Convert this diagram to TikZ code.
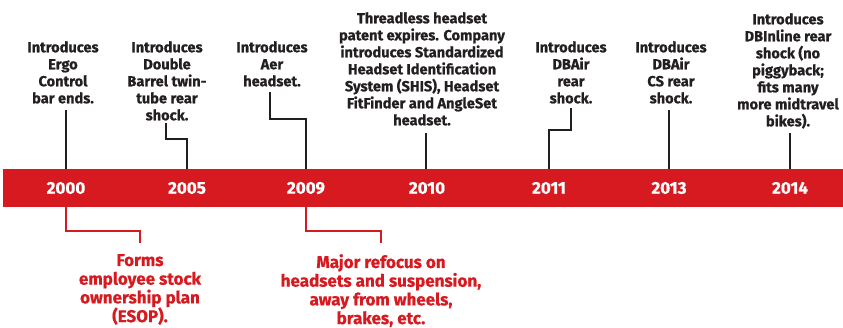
\documentclass[tikz,border=0pt]{standalone}
\usepackage{fontspec}
\setmainfont[BoldFeatures={FakeBold=0.6}]{Fira Sans}
\usepackage{tikz}
\usetikzlibrary{positioning}
\definecolor{barred}{HTML}{D71920}
\definecolor{ink}{HTML}{231F20}

\begin{document}
\begin{tikzpicture}[x=1pt,y=1pt,
  evt/.style={align=center, inner sep=0pt, anchor=north, text=ink, font=\bfseries\fontsize{14.6}{17}\selectfont},
  low/.style={align=center, inner sep=0pt, anchor=north, text=barred, font=\bfseries\fontsize{17}{18.7}\selectfont},
  year/.style={text=white, inner sep=0pt, font=\bfseries\fontsize{17}{20}\selectfont},
  tick/.style={draw=ink, line width=1.8pt},
  rtick/.style={draw=barred, line width=1.8pt}]
  \useasboundingbox[fill=white] (0,0) rectangle (843,327);
  \node[fill=barred, minimum width=840pt, minimum height=38pt, inner sep=0pt, anchor=south west] (bar) at (3,120) {};
  \foreach \x/\yr in {66/2000,187/2005,306/2009,427/2010,549/2011,669/2013,790/2014} {\node[year] (y\yr) at (\x,139) {\yr};}
  \node[evt] (t2000) at (63,286) {Introduces\\Ergo\\Control\\bar ends.};
  \node[evt] (t2005) at (167,286) {Introduces\\Double\\Barrel twin-\\tube rear\\shock.};
  \node[evt] (t2009) at (272,286) {Introduces\\Aer\\headset.};
  \node[evt] (t2010) at (422,315) {Threadless headset\\patent expires. Company\\introduces Standardized\\Headset Identification\\System (SHIS), Headset\\FitFinder and AngleSet\\headset.};
  \node[evt] (t2011) at (571,286) {Introduces\\DBAir\\rear\\shock.};
  \node[evt] (t2013) at (671,286) {Introduces\\DBAir\\CS rear\\shock.};
  \node[evt] (t2014) at (788,314) {Introduces\\DBInline rear\\shock (no\\piggyback;\\fits many\\more midtravel\\bikes).};
  \node[low] (f2000) at (140,73) {Forms\\employee stock\\ownership plan\\(ESOP).};
  \node[low] (f2009) at (381,73) {Major refocus on\\headsets and suspension,\\away from wheels,\\brakes, etc.};
  \coordinate (a2000) at (66,217);
  \coordinate (a2005) at (166,204);
  \coordinate (a2009) at (270,235);
  \coordinate (a2010) at (426,194);
  \coordinate (a2011) at (571,219);
  \coordinate (a2013) at (669,217);
  \coordinate (a2014) at (790,194);
  \coordinate (b2000) at (140,84);
  \coordinate (b2009) at (381,84);
  \draw[tick] (a2000) -- (a2000 |- bar.north);
  \draw[tick] (a2005) -- ++(0,-16) -| (y2005 |- bar.north);
  \draw[tick] (a2009) -- ++(0,-27) -| (y2009 |- bar.north);
  \draw[tick] (a2010) -- (a2010 |- bar.north);
  \draw[tick] (a2011) -- ++(0,-22) -| (y2011 |- bar.north);
  \draw[tick] (a2013) -- (a2013 |- bar.north);
  \draw[tick] (a2014) -- (a2014 |- bar.north);
  \draw[rtick] (y2000 |- bar.south) -- ++(0,-24) -| (b2000);
  \draw[rtick] (y2009 |- bar.south) -- ++(0,-24) -| (b2009);
\end{tikzpicture}
\end{document}
